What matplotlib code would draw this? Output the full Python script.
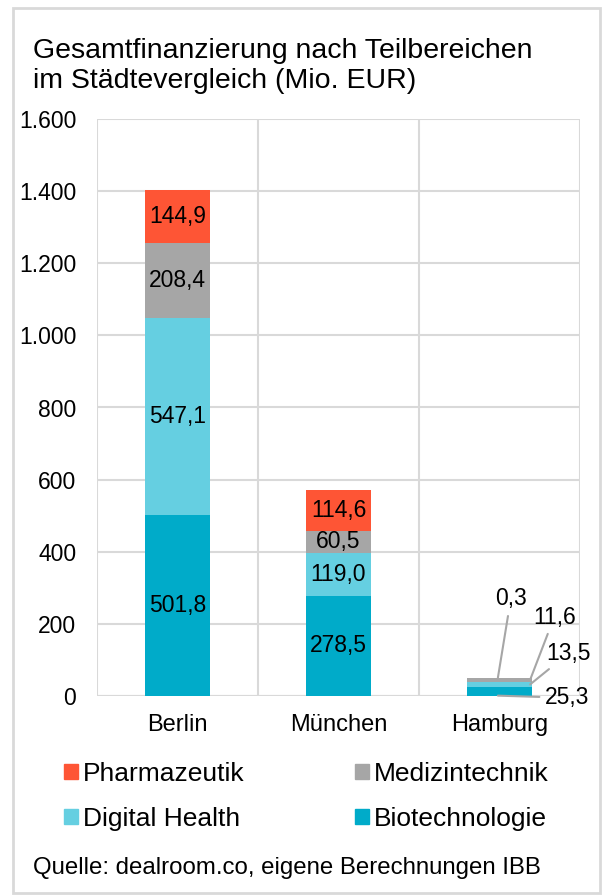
import numpy as np
import matplotlib
matplotlib.use('Agg')
import matplotlib.pyplot as plt
from matplotlib.patches import Rectangle, Patch

plt.rcParams['font.family'] = ['Liberation Sans', 'DejaVu Sans']

staedte = ['Berlin', 'München', 'Hamburg']
biotech = [501.8, 278.5, 25.3]
digital = [547.1, 119.0, 13.5]
medtech = [208.4, 60.5, 11.6]
pharma = [144.9, 114.6, 0.3]
reihen = ['Biotechnologie', 'Digital Health', 'Medizintechnik', 'Pharmazeutik']
farben = ['#00abc9', '#65cfe1', '#a6a6a6', '#fe5535']
yticks = [0, 200, 400, 600, 800, 1000, 1200, 1400, 1600]
ylabels = ['0', '200', '400', '600', '800', '1.000', '1.200', '1.400', '1.600']

def fmt(v):
    return f'{v:.1f}'.replace('.', ',')

fig = plt.figure(figsize=(6.1, 8.96), dpi=100)
fig.patches.append(Rectangle((13 / 610, 3 / 896), 587 / 610, 885 / 896, transform=fig.transFigure,
                             fill=False, edgecolor='#d9d9d9', linewidth=2))
ax = fig.add_axes([97 / 610, 1 - 696 / 896, 483 / 610, 577 / 896])

x = np.arange(len(staedte))
unten = np.zeros(len(staedte))
for werte, name, farbe in zip([biotech, digital, medtech, pharma], reihen, farben):
    werte = np.array(werte)
    ax.bar(x, werte, bottom=unten, width=0.4, color=farbe, label=name, zorder=3)
    for i in range(2):
        ax.text(x[i], unten[i] + werte[i] / 2, fmt(werte[i]), ha='center', va='center',
                fontsize=16.5, zorder=4)
    unten = unten + werte

# Hamburg: Beschriftungen mit Führungslinien
hb = 2
grenzen = np.cumsum([0, biotech[hb], digital[hb], medtech[hb], pharma[hb]])
hb_werte = [biotech[hb], digital[hb], medtech[hb], pharma[hb]]
anker = [(1.99, grenzen[0] + 1), (2.19, (grenzen[1] + grenzen[2]) / 2),
         (2.19, (grenzen[2] + grenzen[3]) / 2), (1.99, grenzen[4])]
textpos = [(2.42, -5), (2.43, 119), (2.34, 219), (2.07, 269)]
for w, a, t in zip(hb_werte, anker, textpos):
    ax.annotate(fmt(w), xy=a, xytext=t, ha='center', va='center', fontsize=16.5,
                annotation_clip=False,
                arrowprops=dict(arrowstyle='-', color='#a6a6a6', lw=1.5, shrinkA=2, shrinkB=0))

ax.set_xlim(-0.5, 2.5)
ax.set_ylim(0, 1600)
ax.set_yticks(yticks)
ax.set_yticklabels(ylabels, fontsize=16.5)
ax.set_xticks(x)
ax.set_xticklabels(staedte, fontsize=17)
ax.tick_params(axis='y', length=0, pad=15)
ax.tick_params(axis='x', length=0, pad=13)
ax.set_xticks([-0.5, 0.5, 1.5, 2.5], minor=True)
ax.grid(axis='y', color='#d9d9d9', lw=1.5, zorder=0)
ax.grid(axis='x', which='minor', color='#d9d9d9', lw=1.5, zorder=0)
ax.tick_params(axis='x', which='minor', length=0)
for s in ax.spines.values():
    s.set_visible(False)
ax.axhline(0, color='#d9d9d9', lw=1.5, zorder=2)

fig.text(33 / 610, 1 - 66 / 896, 'Gesamtfinanzierung nach Teilbereichen\nim Städtevergleich (Mio. EUR)',
         fontsize=20.5, va='center', ha='left', linespacing=1.24)

handles = [Patch(color=farben[3]), Patch(color=farben[1]), Patch(color=farben[2]), Patch(color=farben[0])]
namen = ['Pharmazeutik', 'Digital Health', 'Medizintechnik', 'Biotechnologie']
fig.legend(handles, namen, ncol=2, loc='upper left', bbox_to_anchor=(64 / 610, 1 - 762 / 896),
           frameon=False, fontsize=19, handlelength=0.52, handleheight=0.52, handletextpad=0.19,
           columnspacing=4.2, labelspacing=0.8, borderpad=0, borderaxespad=0)

fig.text(33 / 610, 1 - 868 / 896, 'Quelle: dealroom.co, eigene Berechnungen IBB',
         fontsize=17.3, va='center', ha='left')

fig.savefig('out.png', dpi=100)
